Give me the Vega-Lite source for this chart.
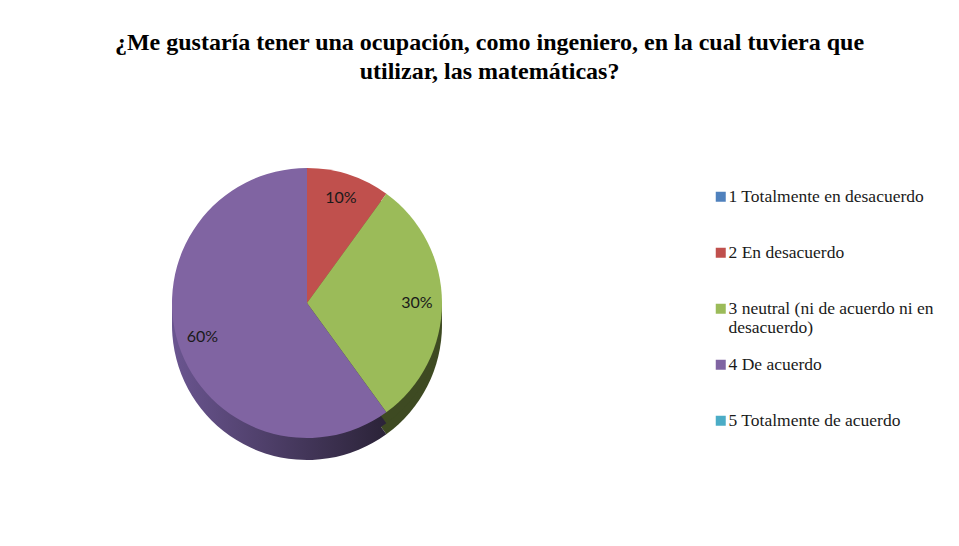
{
  "$schema": "https://vega.github.io/schema/vega-lite/v6.json",
  "width": 604,
  "height": 430,
  "padding": {"left": 5, "top": 31, "right": 5, "bottom": 5},
  "background": "white",
  "config": {"view": {"stroke": null}},
  "title": {
    "text": ["¿Me gustaría tener una ocupación, como ingeniero, en la cual tuviera que", "utilizar, las matemáticas?"],
    "font": "Liberation Serif",
    "fontSize": 24,
    "fontWeight": "bold",
    "lineHeight": 29,
    "color": "#000000",
    "anchor": "middle",
    "frame": "bounds",
    "dx": 20,
    "offset": 4
  },
  "data": {
    "values": [
      {"respuesta": "1 Totalmente en desacuerdo", "porcentaje": 0},
      {"respuesta": "2 En desacuerdo", "porcentaje": 10},
      {"respuesta": "3 neutral (ni de acuerdo ni en desacuerdo)", "porcentaje": 30},
      {"respuesta": "4 De acuerdo", "porcentaje": 60},
      {"respuesta": "5 Totalmente de acuerdo", "porcentaje": 0}
    ]
  },
  "layer": [
    {
      "mark": {"type": "arc", "outerRadius": 135, "yOffset": 22, "stroke": null},
      "encoding": {
        "theta": {"field": "porcentaje", "type": "quantitative", "stack": true},
        "order": {"field": "respuesta", "type": "ordinal"},
        "color": {
          "condition": {
            "test": "datum.respuesta == '4 De acuerdo'",
            "value": {"gradient": "linear", "x1": 0, "x2": 1, "y1": 0, "y2": 0, "stops": [{"offset": 0, "color": "#6a5590"}, {"offset": 1, "color": "#2b2338"}]}
          },
          "field": "respuesta", "type": "nominal", "legend": null,
          "scale": {
            "domain": ["1 Totalmente en desacuerdo", "2 En desacuerdo", "3 neutral (ni de acuerdo ni en desacuerdo)", "4 De acuerdo", "5 Totalmente de acuerdo"],
            "range": ["#2f4d70", "#7a3230", "#3e4a22", "#45375a", "#2d6b7b"]
          }
        }
      }
    },
    {
      "mark": {"type": "arc", "outerRadius": 135, "yOffset": 11, "stroke": null},
      "encoding": {
        "theta": {"field": "porcentaje", "type": "quantitative", "stack": true},
        "order": {"field": "respuesta", "type": "ordinal"},
        "color": {
          "condition": {
            "test": "datum.respuesta == '4 De acuerdo'",
            "value": {"gradient": "linear", "x1": 0, "x2": 1, "y1": 0, "y2": 0, "stops": [{"offset": 0, "color": "#6a5590"}, {"offset": 1, "color": "#2b2338"}]}
          },
          "field": "respuesta", "type": "nominal", "legend": null,
          "scale": {
            "domain": ["1 Totalmente en desacuerdo", "2 En desacuerdo", "3 neutral (ni de acuerdo ni en desacuerdo)", "4 De acuerdo", "5 Totalmente de acuerdo"],
            "range": ["#2f4d70", "#7a3230", "#3e4a22", "#45375a", "#2d6b7b"]
          }
        }
      }
    },
    {
      "mark": {"type": "arc", "outerRadius": 135, "stroke": null},
      "encoding": {
        "theta": {"field": "porcentaje", "type": "quantitative", "stack": true},
        "order": {"field": "respuesta", "type": "ordinal"},
        "color": {
          "field": "respuesta",
          "type": "nominal",
          "scale": {
            "domain": ["1 Totalmente en desacuerdo", "2 En desacuerdo", "3 neutral (ni de acuerdo ni en desacuerdo)", "4 De acuerdo", "5 Totalmente de acuerdo"],
            "range": ["#4f81bd", "#c0504d", "#9bbb59", "#8064a2", "#4bacc6"]
          },
          "legend": {
            "title": null,
            "orient": "none",
            "legendX": 707,
            "legendY": 100,
            "symbolType": "square",
            "symbolSize": 100,
            "symbolStrokeWidth": 0,
            "labelFont": "Liberation Serif",
            "labelFontSize": 17.5,
            "labelColor": "#1a1a1a",
            "labelLimit": 300,
            "labelOffset": -1,
            "labelBaseline": "middle",
            "rowPadding": 18,
            "labelExpr": "datum.label == '3 neutral (ni de acuerdo ni en desacuerdo)' ? ['3 neutral (ni de acuerdo ni en', 'desacuerdo)'] : [datum.label, '']",
            "encode": {"labels": {"update": {"dy": {"value": 9.5}, "lineHeight": {"value": 19}}}}
          }
        }
      }
    },
    {
      "transform": [
        {"filter": "datum.porcentaje > 0"},
        {"calculate": "datum.porcentaje + '%'", "as": "etiqueta"}
      ],
      "mark": {"type": "text", "radius": 110, "font": "Lato", "fontSize": 16, "color": "#1a1a1a"},
      "encoding": {
        "theta": {"field": "porcentaje", "type": "quantitative", "stack": true},
        "order": {"field": "respuesta", "type": "ordinal"},
        "text": {"field": "etiqueta", "type": "nominal"}
      }
    }
  ],
  "resolve": {"scale": {"color": "independent"}}
}
